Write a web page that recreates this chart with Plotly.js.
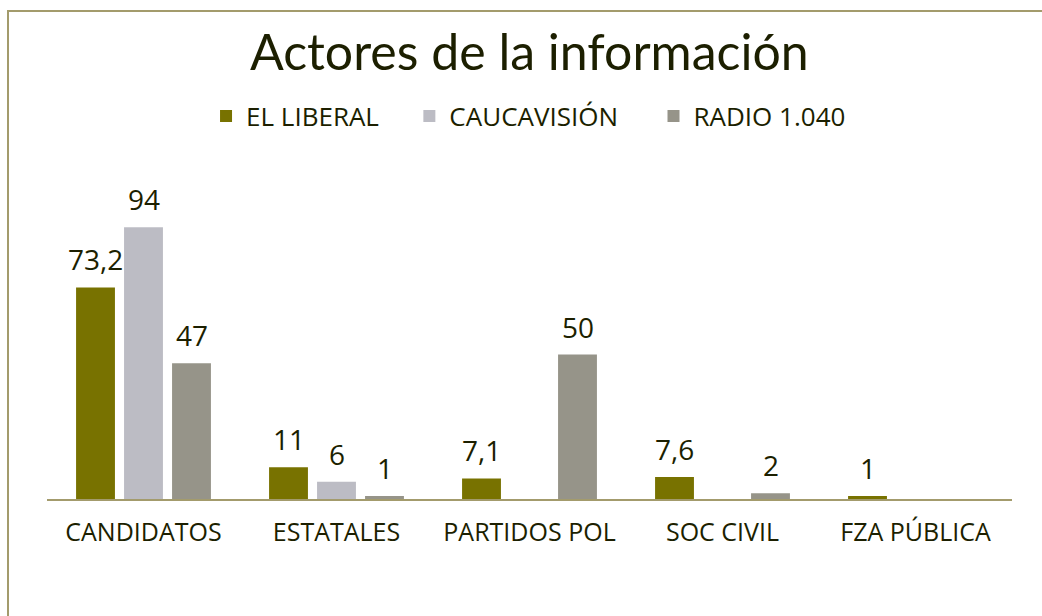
<!DOCTYPE html>
<html>
<head>
<meta charset="utf-8">
<script src="https://cdn.plot.ly/plotly-3.0.1.min.js"></script>
<style>
  html, body { margin: 0; padding: 0; background: #ffffff; }
  #wrap { position: relative; width: 1042px; height: 616px; overflow: hidden; }
  #chart { width: 1042px; height: 616px; }
  #frame { position: absolute; left: 7px; top: 10px; right: -10px; bottom: -10px;
           border-top: 2px solid #a39b6c; border-left: 2px solid #a39b6c; pointer-events: none; }
</style>
</head>
<body>
<div id="wrap">
  <div id="chart"></div>
  <div id="frame"></div>
</div>
<script>
const categories = ["CANDIDATOS", "ESTATALES", "PARTIDOS POL", "SOC CIVIL", "FZA PÚBLICA"];
const seriesNames = ["EL LIBERAL", "CAUCAVISIÓN", "RADIO 1.040"];
const elLiberal   = [73.2, 11, 7.1, 7.6, 1];
const caucavision = [94, 6, null, null, null];
const radio1040   = [47, 1, 50, 2, null];
const colors = ["#787200", "#bcbcc4", "#969489"];

const allSeries = [elLiberal, caucavision, radio1040];
const fmt = v => String(v).replace('.', ',');
const legendIds = ['legend', 'legend2', 'legend3'];

const traces = allSeries.map((vals, i) => ({
  type: 'bar',
  name: seriesNames[i],
  x: categories,
  y: vals,
  legend: legendIds[i],
  marker: { color: colors[i], line: { width: 0 } },
  hoverinfo: 'skip'
}));

const shifts = [-48, 0, 48];
const annotations = [];
allSeries.forEach((vals, i) => {
  vals.forEach((v, j) => {
    if (v === null) return;
    annotations.push({
      x: categories[j], y: v, xref: 'x', yref: 'y',
      text: fmt(v), showarrow: false,
      xshift: shifts[i], yshift: 7, yanchor: 'bottom',
      font: { family: 'Open Sans, sans-serif', size: 28, color: '#1c1f00' }
    });
  });
});

const legendFont = { family: 'Open Sans, sans-serif', size: 26, color: '#1c1f00' };
const legendBase = { orientation: 'h', xanchor: 'left', y: 1.325, yanchor: 'middle',
                     font: legendFont, bgcolor: 'rgba(0,0,0,0)' };

const layout = {
  width: 1042, height: 616,
  paper_bgcolor: '#ffffff', plot_bgcolor: '#ffffff',
  margin: { l: 47, r: 30, t: 210, b: 117 },
  title: {
    text: 'Actores de la información',
    font: { family: 'Lato, sans-serif', size: 50, color: '#1c1f00' },
    x: 0.508, xref: 'container', xanchor: 'center',
    y: 0.914, yref: 'container', yanchor: 'middle'
  },
  showlegend: true,
  legend:  Object.assign({}, legendBase, { x: 0.1648 }),
  legend2: Object.assign({}, legendBase, { x: 0.3755 }),
  legend3: Object.assign({}, legendBase, { x: 0.6285 }),
  barmode: 'group',
  bargap: 0.254,
  bargroupgap: 0.19,
  xaxis: {
    showline: true, linecolor: '#a39b6c', linewidth: 2,
    showgrid: false, zeroline: false, ticks: '',
    ticklabelstandoff: 10,
    tickfont: { family: 'Open Sans, sans-serif', size: 25, color: '#1c1f00' }
  },
  yaxis: {
    range: [0, 100], visible: false, showgrid: false, zeroline: false, fixedrange: true
  },
  annotations: annotations
};

Plotly.newPlot('chart', traces, layout, { displayModeBar: false, staticPlot: true });
</script>
</body>
</html>
